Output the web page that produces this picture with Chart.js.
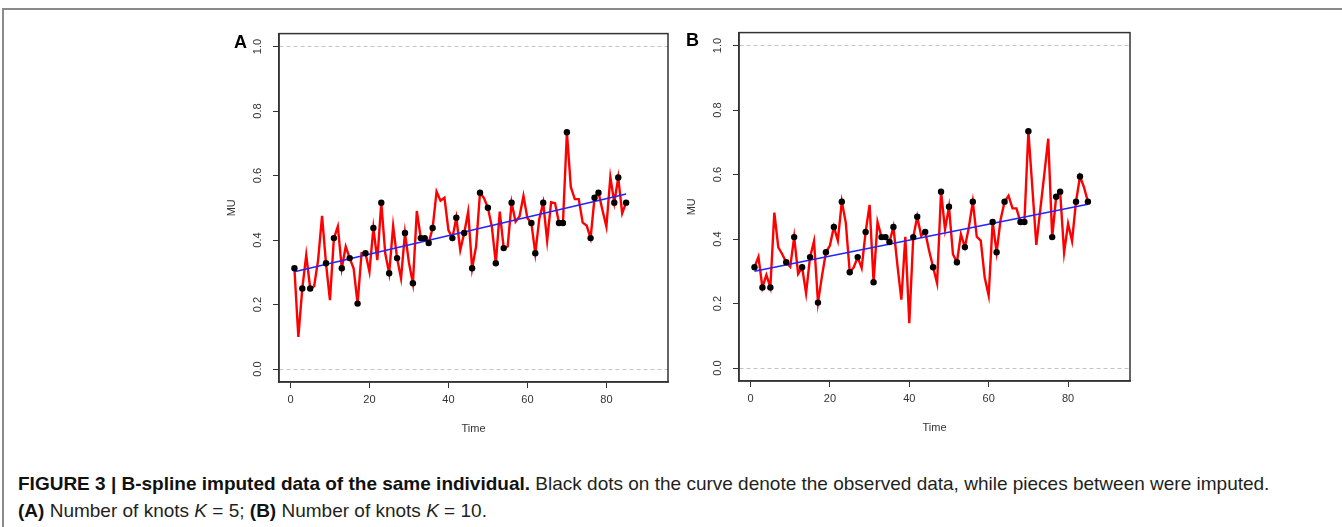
<!DOCTYPE html>
<html><head><meta charset="utf-8">
<script src="https://cdn.jsdelivr.net/npm/chart.js@4/dist/chart.umd.min.js"></script>
<style>
html,body{margin:0;padding:0;background:#fff;}
body{width:1342px;height:527px;position:relative;overflow:hidden;font-family:"Liberation Sans",Arial,sans-serif;}
#frame{position:absolute;left:2px;top:8px;width:1360px;height:540px;border-top:2px solid #8a8a8a;border-left:2px solid #8a8a8a;}
canvas{position:absolute;}
#cA{left:200px;top:20px;}
#cB{left:660px;top:19px;}
.plab{position:absolute;font-weight:bold;font-size:18px;line-height:18px;color:#000;}
#cap{position:absolute;left:18px;top:470px;font-size:19px;line-height:27px;color:#231f20;white-space:nowrap;}
#cap b{color:#111;}
</style></head>
<body>
<div id="frame"></div>
<canvas id="cA" width="480" height="420"></canvas>
<canvas id="cB" width="482" height="420"></canvas>
<div class="plab" style="left:234px;top:32.7px;">A</div>
<div class="plab" style="left:686px;top:31px;">B</div>
<div id="cap"><b>FIGURE 3 | B-spline imputed data of the same individual.</b> Black dots on the curve denote the observed data, while pieces between were imputed.<br><b>(A)</b> Number of knots <i>K</i> = 5; <b>(B)</b> Number of knots <i>K</i> = 10.</div>
<script>
// ---- data ----
const times = [1,2,3,4,5,6,7,8,9,10,11,12,13,14,15,16,17,18,19,20,21,22,23,24,25,26,27,28,29,30,
  31,32,33,34,35,36,37,38,39,40,41,42,43,44,45,46,47,48,49,50,51,52,53,54,55,56,57,58,59,60,
  61,62,63,64,65,66,67,68,69,70,71,72,73,74,75,76,77,78,79,80,81,82,83,84,85];
const obsTimes = [1,3,5,9,11,13,15,17,19,21,23,25,27,29,31,33,34,35,36,41,42,44,46,48,50,52,54,56,61,62,64,68,69,70,76,77,78,82,83,85];
const obsValues = [0.3125,0.25,0.25,0.328,0.406,0.3125,0.344,0.203,0.359,0.4375,0.516,0.297,0.344,0.422,0.266,0.406,0.406,0.391,0.4375,
  0.406,0.469,0.422,0.3125,0.547,0.5,0.328,0.375,0.516,0.453,0.359,0.516,0.453,0.453,0.734,0.406,0.531,0.547,0.516,0.594,0.516];
const curveA = [0.3125,0.10,0.25,0.354,0.25,0.257,0.338,0.475,0.328,0.214,
  0.406,0.442,0.3125,0.38,0.344,0.312,0.203,0.359,0.359,0.302,
  0.4375,0.338,0.516,0.359,0.297,0.444,0.344,0.281,0.422,0.33,
  0.266,0.49,0.406,0.406,0.391,0.4375,0.55,0.522,0.531,0.431,
  0.406,0.469,0.369,0.422,0.488,0.3125,0.38,0.547,0.53,0.5,
  0.441,0.328,0.488,0.375,0.38,0.516,0.457,0.473,0.537,0.468,
  0.453,0.359,0.465,0.516,0.398,0.517,0.514,0.453,0.453,0.734,
  0.564,0.527,0.527,0.454,0.445,0.406,0.531,0.547,0.493,0.441,
  0.595,0.516,0.594,0.483,0.516];
const curveB = [0.3125,0.345,0.25,0.289,0.25,0.482,0.374,0.353,0.328,0.314,
  0.406,0.292,0.3125,0.232,0.344,0.394,0.203,0.285,0.359,0.38,
  0.4375,0.395,0.516,0.451,0.297,0.312,0.344,0.31,0.422,0.506,
  0.266,0.453,0.406,0.406,0.391,0.4375,0.32,0.212,0.407,0.139,
  0.406,0.469,0.41,0.422,0.364,0.3125,0.263,0.547,0.43,0.5,
  0.353,0.328,0.415,0.375,0.436,0.516,0.407,0.395,0.281,0.225,
  0.453,0.359,0.46,0.516,0.534,0.495,0.495,0.453,0.453,0.734,
  0.559,0.382,0.491,0.60,0.711,0.406,0.531,0.547,0.358,0.448,
  0.394,0.516,0.594,0.561,0.516];
const trendTimes = [1, 85];
const trendA = [0.302, 0.543];
const trendB = [0.300, 0.508];
const xTicks = [0, 20, 40, 60, 80];
const yTicks = [0, 0.2, 0.4, 0.6, 0.8, 1.0];
const yTickLabels = ["0.0", "0.2", "0.4", "0.6", "0.8", "1.0"];
const refLevels = [0, 1];
const xTitle = "Time";
const yTitle = "MU";

// ---- drawing ----
const FONT = "'Liberation Sans', Arial, sans-serif";
const TXT = '#333';
const pts = (xs, ys) => xs.map((x, i) => ({x: x, y: ys[i]}));

const boxPlugin = {
  id: 'box',
  afterDraw(chart) {
    const {ctx, chartArea: a} = chart;
    ctx.save();
    ctx.strokeStyle = '#333';
    ctx.lineWidth = 1.5;
    ctx.strokeRect(a.left, a.top, a.right - a.left, a.bottom - a.top);
    ctx.restore();
  }
};

function makeChart(id, curve, trend, padTop) {
  return new Chart(document.getElementById(id), {
    type: 'scatter',
    data: {
      datasets: [
        {type: 'scatter', data: pts(obsTimes, obsValues), pointRadius: 3.2, pointBackgroundColor: '#000', pointBorderWidth: 0, showLine: false},
        {type: 'line', data: pts(trendTimes, trend), borderColor: '#2323ff', borderWidth: 1.6, pointRadius: 0, tension: 0, fill: false},
        {type: 'line', data: pts(times, curve), borderColor: '#ff0000', borderWidth: 2.4, pointRadius: 0, tension: 0, fill: false}
      ]
    },
    options: {
      responsive: false,
      animation: false,
      events: [],
      devicePixelRatio: 1,
      layout: {autoPadding: false, padding: {left: 0, top: padTop, right: 12, bottom: 0}},
      plugins: {legend: {display: false}, tooltip: {enabled: false}},
      scales: {
        x: {
          type: 'linear', min: -2.9, max: 95.6,
          afterBuildTicks: s => { s.ticks = xTicks.map(v => ({value: v})); },
          afterFit: s => { s.height = 58; },
          ticks: {callback: v => String(v), minRotation: 0, maxRotation: 0, padding: 5, color: TXT, font: {family: FONT, size: 11}},
          grid: {display: true, drawOnChartArea: false, drawTicks: true, tickLength: 6, tickColor: '#333', tickWidth: 1, tickBorderDash: []},
          border: {display: true, color: '#333', width: 1.5},
          title: {display: true, text: xTitle, color: TXT, font: {family: FONT, size: 11}, padding: {top: 0, bottom: 4.4}}
        },
        y: {
          type: 'linear', min: -0.04, max: 1.04,
          afterBuildTicks: s => { s.ticks = yTicks.map(v => ({value: v})); },
          afterFit: s => { s.width = 79; },
          ticks: {callback: v => yTickLabels[yTicks.indexOf(v)], minRotation: 90, maxRotation: 90, crossAlign: 'center', padding: 7, color: TXT, font: {family: FONT, size: 11}},
          grid: {display: true, drawOnChartArea: true,
                 color: c => (c.tick && refLevels.includes(c.tick.value)) ? '#c4c4c4' : 'rgba(0,0,0,0)',
                 lineWidth: 1, drawTicks: true, tickLength: 6, tickColor: '#333', tickWidth: 1, tickBorderDash: []},
          border: {display: true, color: '#333', width: 1.5, dash: [4, 3]},
          title: {display: true, text: yTitle, color: TXT, font: {family: FONT, size: 11}, padding: {top: 25.4, bottom: 0}}
        }
      }
    },
    plugins: [boxPlugin]
  });
}
makeChart('cA', curveA, trendA, 13.5);
makeChart('cB', curveB, trendB, 12.5);
</script>
</body></html>
